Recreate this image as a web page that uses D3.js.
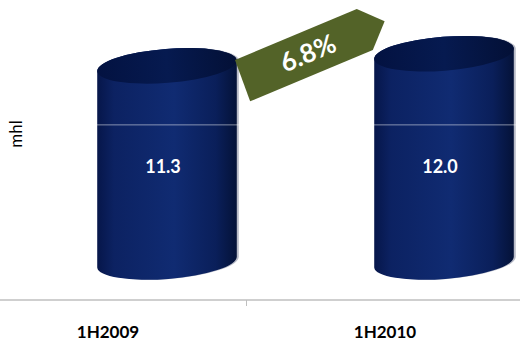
<!DOCTYPE html>
<html><head><meta charset="utf-8">
<script src="https://cdn.jsdelivr.net/npm/d3@7"></script>
<style>html,body{margin:0;padding:0;background:#fff;}svg{display:block;}</style>
</head><body>
<svg id="chart" width="520" height="345"></svg>
<script>
const categories = ["1H2009", "1H2010"];
const values = [11.3, 12.0];
const gridValues = [7.9];
const growthLabel = "6.8%";
const yAxisTitle = "mhl";

const W = 520, H = 345;
const svg = d3.select("#chart");
const font = "Lato, 'Open Sans', sans-serif";

const x = d3.scaleBand().domain(categories).range([-30.5, 523.5]);
const y = d3.scaleLinear().domain([0, 14]).range([300, 57]);
// 3D depth offset
const dx = 59, dy = -38;
const rx = 70, ry = 17, theta = -4.5;
const c = Math.cos(theta * Math.PI / 180), s = Math.sin(theta * Math.PI / 180);

const defs = svg.append("defs");
const gb = defs.append("linearGradient").attr("id", "body").attr("x1", 0).attr("x2", 1).attr("y1", 0).attr("y2", 0);
[[0, "#06164a"], [0.12, "#0c2262"], [0.55, "#102b72"], [0.85, "#0a1f5a"], [1, "#041238"]].forEach(d =>
  gb.append("stop").attr("offset", d[0]).attr("stop-color", d[1]));
const gt = defs.append("linearGradient").attr("id", "top").attr("x1", 0).attr("x2", 1).attr("y1", 0).attr("y2", 0);
[[0, "#031241"], [0.5, "#061a50"], [1, "#031036"]].forEach(d =>
  gt.append("stop").attr("offset", d[0]).attr("stop-color", d[1]));

// axis title
svg.append("text").attr("transform", "translate(22,134) rotate(-90)")
  .attr("text-anchor", "middle").attr("font-family", font).attr("font-size", 17)
  .attr("fill", "#000").text(yAxisTitle);

// category axis line
svg.append("line").attr("x1", 0).attr("x2", W).attr("y1", y(0)).attr("y2", y(0))
  .attr("stroke", "#bfbfbf").attr("stroke-width", 1.5);
svg.append("line").attr("x1", x(categories[1])).attr("x2", x(categories[1]))
  .attr("y1", y(0)).attr("y2", y(0) + 6).attr("stroke", "#bfbfbf").attr("stroke-width", 1);

svg.selectAll(".cat").data(categories).enter().append("text")
  .attr("x", d => x(d) + x.bandwidth() / 2).attr("y", 338)
  .attr("text-anchor", "middle").attr("font-family", font).attr("font-weight", 700)
  .attr("font-size", 17).attr("fill", "#000").text(d => d);

function cyl(cx, yT, yB) {
  const lT = [cx - rx * c, yT - rx * s], rT = [cx + rx * c, yT + rx * s];
  const lB = [cx - rx * c, yB - rx * s], rB = [cx + rx * c, yB + rx * s];
  return `M${lT}L${lB}A${rx},${ry} ${theta} 0 0 ${rB}L${rT}A${rx},${ry} ${theta} 0 0 ${lT}Z`;
}

const g = svg.selectAll(".cyl").data(categories).enter().append("g");
g.append("path").attr("d", (d, i) => {
  const cx = x(d) + x.bandwidth() / 2 + dx + 2;
  return cyl(cx, y(values[i]) + dy, y(0) + dy);
}).attr("fill", "#b9bcc8");
g.append("path").attr("d", (d, i) => {
  const cx = x(d) + x.bandwidth() / 2 + dx;
  return cyl(cx, y(values[i]) + dy, y(0) + dy);
}).attr("fill", "url(#body)");
g.append("ellipse")
  .attr("transform", (d, i) => `translate(${x(d) + x.bandwidth() / 2 + dx},${y(values[i]) + dy}) rotate(${theta})`)
  .attr("rx", rx).attr("ry", ry).attr("fill", "url(#top)");

// gridline (visible over the cylinders)
svg.selectAll(".grid").data(gridValues).enter().append("line")
  .attr("x1", 0).attr("x2", W).attr("y1", d => y(d) + dy).attr("y2", d => y(d) + dy)
  .attr("stroke", "#ffffff").attr("stroke-opacity", 0.5).attr("stroke-width", 1);

// value labels
svg.selectAll(".val").data(values).enter().append("text")
  .attr("x", (d, i) => x(categories[i]) + x.bandwidth() / 2 + dx - 4)
  .attr("y", y(5.1) + dy).attr("text-anchor", "middle")
  .attr("font-family", font).attr("font-weight", 700).attr("font-size", 18)
  .attr("fill", "#fff").text(d => d.toFixed(1));

// growth arrow
const ag = svg.append("g").attr("transform", "translate(235,60) rotate(-22.7)");
ag.append("path").attr("d", "M0,0L132,0L153,22L131,44L-2,44Z").attr("fill", "#536328");
ag.append("text").attr("x", 70).attr("y", 31).attr("text-anchor", "middle")
  .attr("font-family", font).attr("font-weight", 700).attr("font-size", 26)
  .attr("fill", "#fff").text(growthLabel);
</script>
</body></html>
